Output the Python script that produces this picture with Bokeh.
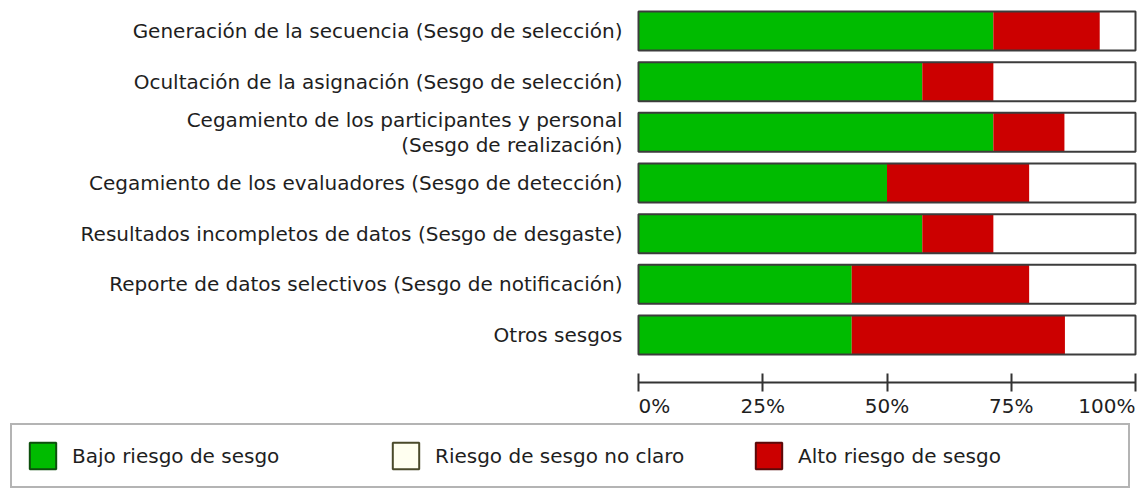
from bokeh.plotting import figure
from bokeh.models import Range1d, FixedTicker, Legend, LegendItem, ColumnDataSource
from bokeh.core.properties import value
from bokeh.embed import file_html
from bokeh.resources import INLINE

# ---------------- data ----------------
domains = [
    "Generación de la secuencia (Sesgo de selección)",
    "Ocultación de la asignación (Sesgo de selección)",
    "Cegamiento de los participantes y personal\n(Sesgo de realización)",
    "Cegamiento de los evaluadores (Sesgo de detección)",
    "Resultados incompletos de datos (Sesgo de desgaste)",
    "Reporte de datos selectivos (Sesgo de notificación)",
    "Otros sesgos",
]
low_risk = [71.4, 57.1, 71.4, 50.0, 57.1, 42.9, 42.9]
high_risk = [21.4, 14.3, 14.3, 28.6, 14.3, 35.7, 42.9]
unclear_risk = [7.2, 28.6, 14.3, 21.4, 28.6, 21.4, 14.2]

tick_values = [0, 25, 50, 75, 100]
tick_labels = ["0%", "25%", "50%", "75%", "100%"]
legend_labels = ["Bajo riesgo de sesgo", "Riesgo de sesgo no claro", "Alto riesgo de sesgo"]

# ---------------- style / layout ----------------
GREEN = "#00BB00"
RED = "#CC0000"
OUTLINE = "#3c3c3c"
TEXT = "#1e1e1e"
FONT = "DejaVu Sans"
FS = "20px"
BAR_H = 0.77
W, H = 1139, 488
X0_PX, X100_PX = 638, 1135          # where 0% and 100% sit on the canvas
ROW_PX, ROW0_PX = 50.67, 30.5       # row pitch and first row centre
AXIS_Y = (382 - ROW0_PX) / ROW_PX   # vertical place of the percentage axis
TICKLAB_Y = (405 - ROW0_PX) / ROW_PX

n = len(domains)
ypos = list(range(n))
high_end = [l + h for l, h in zip(low_risk, high_risk)]
total = [he + u for he, u in zip(high_end, unclear_risk)]
src = ColumnDataSource(dict(y=ypos, zero=[0] * n, low_end=low_risk,
                            high_end=high_end, total=total))

sx = (X100_PX - X0_PX) / 100.0
x_range = Range1d(-X0_PX / sx, 100 + (W - X100_PX) / sx)
y_top = -ROW0_PX / ROW_PX
y_range = Range1d(y_top + H / ROW_PX, y_top)

p = figure(width=W, height=H, output_backend="svg", toolbar_location=None,
           x_range=x_range, y_range=y_range,
           min_border_left=0, min_border_right=0, min_border_top=0,
           min_border_bottom=0)
p.outline_line_color = None
p.grid.visible = False
p.background_fill_color = "white"
p.border_fill_color = "white"

p.hbar(y="y", left="zero", right="total", height=BAR_H, fill_color="white",
       line_color=None, source=src)
p.hbar(y="y", left="zero", right="low_end", height=BAR_H, fill_color=GREEN,
       line_color=None, source=src)
p.hbar(y="y", left="low_end", right="high_end", height=BAR_H, fill_color=RED,
       line_color=None, source=src)
p.hbar(y="y", left="zero", right="total", height=BAR_H, fill_color=None,
       line_color=OUTLINE, line_width=2, source=src)

# x axis (percentages)
xa = p.xaxis[0]
xa.fixed_location = AXIS_Y
xa.bounds = (tick_values[0], tick_values[-1])
xa.ticker = FixedTicker(ticks=tick_values)
xa.major_label_overrides = {v: "" for v in tick_values}
xa.major_label_text_font_size = "0px"
xa.axis_line_width = 2
xa.axis_line_color = "#333333"
xa.major_tick_line_width = 2
xa.major_tick_line_color = "#333333"
xa.major_tick_in = 9
xa.major_tick_out = 9
xa.minor_tick_line_color = None

aligns = ["left"] + ["center"] * (len(tick_values) - 2) + ["right"]
tsrc = ColumnDataSource(dict(x=tick_values, y=[TICKLAB_Y] * len(tick_values),
                             text=tick_labels, align=aligns))
p.text(x="x", y="y", text="text", text_align="align", text_baseline="middle",
       text_font=value(FONT), text_font_size=value(FS), text_color=TEXT, source=tsrc)

# y axis (domains)
ya = p.yaxis[0]
ya.fixed_location = 0
ya.ticker = FixedTicker(ticks=ypos)
ya.major_label_overrides = {i: d for i, d in zip(ypos, domains)}
ya.axis_line_color = None
ya.major_tick_line_color = None
ya.minor_tick_line_color = None
ya.major_tick_in = 0
ya.major_tick_out = 0
ya.major_label_standoff = 16
ya.major_label_text_font = FONT
ya.major_label_text_font_size = FS
ya.major_label_text_color = TEXT
ya.major_label_text_line_height = 1.05

# legend swatches: zero-size bars that only lend their style to the legend
r_low = p.hbar(y="y", left="zero", right="zero", height=0, source=src,
               fill_color=GREEN, line_color="#0d4f0d", line_width=2)
r_unc = p.hbar(y="y", left="zero", right="zero", height=0, source=src,
               fill_color="#FFFFF0", line_color="#4a4a2a", line_width=2)
r_high = p.hbar(y="y", left="zero", right="zero", height=0, source=src,
                fill_color=RED, line_color="#5a0a0a", line_width=2)
legend = Legend(items=[LegendItem(label=legend_labels[0], renderers=[r_low], index=0),
                       LegendItem(label=legend_labels[1], renderers=[r_unc], index=0),
                       LegendItem(label=legend_labels[2], renderers=[r_high], index=0)],
                location=(10, 0), orientation="horizontal",
                glyph_width=33, glyph_height=33, label_standoff=13,
                label_width=316, spacing=1, padding=14, margin=0,
                border_line_color="#6a6a6a", border_line_width=2,
                background_fill_color="white", background_fill_alpha=1,
                label_text_font=FONT, label_text_font_size=FS,
                label_text_color=TEXT)
p.add_layout(legend)

open("out.html", "w").write(file_html(p, INLINE))
